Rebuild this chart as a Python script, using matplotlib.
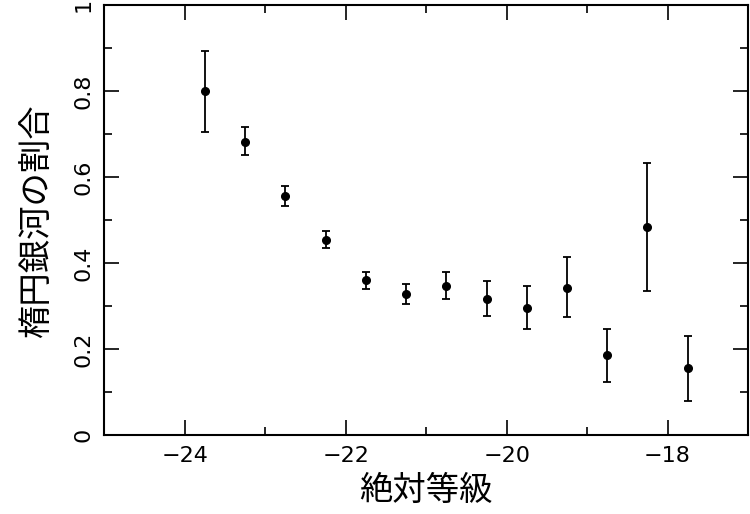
import matplotlib
matplotlib.use("Agg")
import matplotlib.pyplot as plt
from matplotlib.ticker import MultipleLocator

plt.rcParams['font.family'] = ['Noto Sans CJK JP', 'DejaVu Sans']

mag = [-23.75, -23.25, -22.75, -22.25, -21.75, -21.25, -20.75,
       -20.25, -19.75, -19.25, -18.75, -18.25, -17.75]
frac = [0.800, 0.682, 0.556, 0.453, 0.360, 0.328, 0.347,
        0.316, 0.296, 0.343, 0.186, 0.484, 0.156]
err_hi = [0.893, 0.716, 0.580, 0.474, 0.380, 0.352, 0.379,
          0.357, 0.347, 0.413, 0.247, 0.633, 0.231]
err_lo = [0.705, 0.650, 0.533, 0.435, 0.339, 0.304, 0.316,
          0.276, 0.247, 0.274, 0.124, 0.336, 0.080]

yerr = [[f - lo for f, lo in zip(frac, err_lo)],
        [hi - f for f, hi in zip(frac, err_hi)]]

fig = plt.figure(figsize=(7.5, 5.14), dpi=100)
ax = fig.add_axes([0.1393, 0.1537, 0.8580, 0.8366])

ax.errorbar(mag, frac, yerr=yerr, fmt='o', color='black', ms=5.5,
            elinewidth=1.3, capsize=3, capthick=1.3)

ax.set_xlim(-25, -17)
ax.set_ylim(0, 1)
ax.xaxis.set_minor_locator(MultipleLocator(1))
ax.yaxis.set_minor_locator(MultipleLocator(0.1))
ax.set_xticks([-24, -22, -20, -18])
ax.set_xticklabels(['\u221224', '\u221222', '\u221220', '\u221218'],
                   family='DejaVu Sans', fontsize=16)
ax.set_yticks([0, 0.2, 0.4, 0.6, 0.8, 1.0])
ax.set_yticklabels(['0', '0.2', '0.4', '0.6', '0.8', '1'],
                   family='DejaVu Sans', fontsize=16, rotation=90, va='center')

ax.tick_params(which='both', direction='in', top=True, right=True, width=1.2)
ax.tick_params(which='major', length=11, pad=8)
ax.tick_params(which='minor', length=6)
for s in ax.spines.values():
    s.set_linewidth(1.5)

ax.set_xlabel('絶対等級', fontsize=24, labelpad=5)
ax.set_ylabel('楕円銀河の割合', fontsize=24, labelpad=14)

fig.savefig('out.png', dpi=100)
